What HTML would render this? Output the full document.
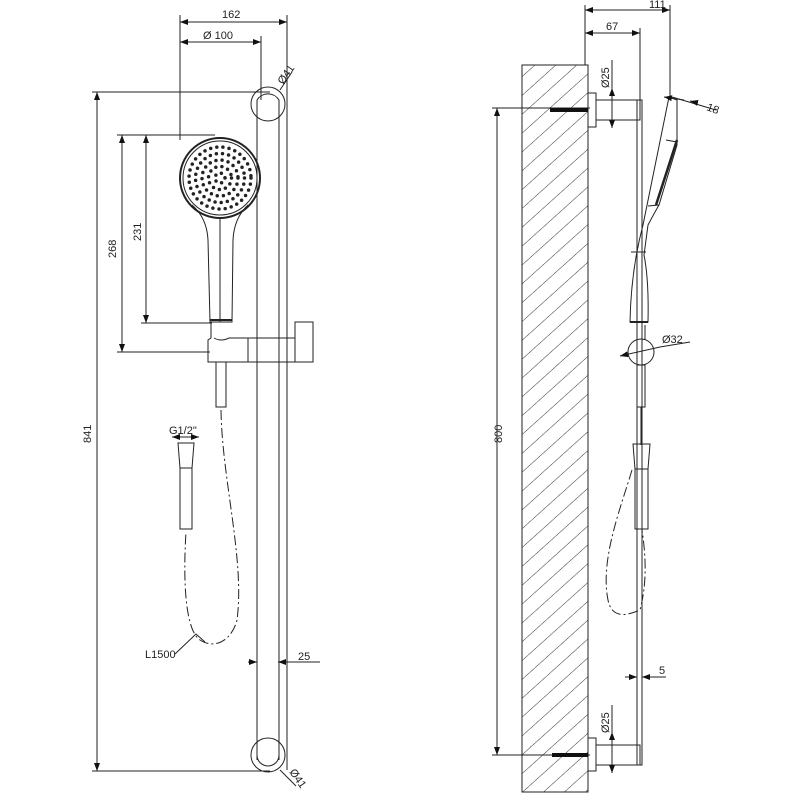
<!DOCTYPE html>
<html><head><meta charset="utf-8"><style>
html,body{margin:0;padding:0;background:#fff}
svg{display:block}
text{font-family:"Liberation Sans",sans-serif;font-size:11px;fill:#222}
</style></head><body>
<svg width="800" height="800" viewBox="0 0 800 800" xmlns="http://www.w3.org/2000/svg">
<defs>
<pattern id="h" patternUnits="userSpaceOnUse" width="14" height="20" patternTransform="rotate(48)">
<line x1="0" y1="0" x2="0" y2="20" stroke="#333" stroke-width="1"/>
</pattern>
<marker id="a" markerWidth="8" markerHeight="6" refX="8" refY="3" orient="auto-start-reverse"><path d="M0,0 L8,3 L0,6z" fill="#111"/></marker>
</defs>
<g stroke="#222" stroke-width="1" fill="none">
<line x1="180" y1="15" x2="180" y2="140"/>
<line x1="287" y1="15" x2="287" y2="770"/>
<line x1="180" y1="22" x2="287" y2="22" marker-start="url(#a)" marker-end="url(#a)"/>
<line x1="261" y1="36" x2="261" y2="100"/>
<line x1="180" y1="42" x2="261" y2="42" marker-start="url(#a)" marker-end="url(#a)"/>
<line x1="92" y1="92" x2="270" y2="92"/>
<line x1="92" y1="771" x2="270" y2="771"/>
<line x1="97" y1="92" x2="97" y2="771" marker-start="url(#a)" marker-end="url(#a)"/>
<line x1="117" y1="135" x2="215" y2="135"/>
<line x1="117" y1="352" x2="210" y2="352"/>
<line x1="122" y1="135" x2="122" y2="352" marker-start="url(#a)" marker-end="url(#a)"/>
<line x1="141" y1="323" x2="212" y2="323"/>
<line x1="146" y1="135" x2="146" y2="323" marker-start="url(#a)" marker-end="url(#a)"/>
<line x1="280" y1="90" x2="292" y2="72"/>
<line x1="280" y1="770" x2="296" y2="786"/>
<line x1="248" y1="662" x2="257" y2="662" marker-end="url(#a)"/>
<line x1="320" y1="662" x2="278" y2="662" marker-end="url(#a)"/>
<line x1="257" y1="640" x2="257" y2="662"/>
<path d="M257 100 A13 13 0 0 1 279 100 L279 760"/>
<path d="M257 760 L257 100"/>
<circle cx="268" cy="104" r="17"/>
<circle cx="268" cy="755" r="17"/>
<path d="M257 755 A11 11 0 0 0 279 755"/>
<circle cx="220" cy="178" r="40" stroke-width="2"/>
<circle cx="220" cy="178" r="37"/>
<path d="M192 205 Q207 218 208 240 L210 322 L232 322 L233 240 Q234 218 248 205"/>
<line x1="220" y1="218" x2="220" y2="322"/>
<line x1="210" y1="320" x2="232" y2="320" stroke-width="2"/>
<path d="M211 322 L211 338 L208 340 L208 362 L248 362 L248 338 L229 338 Q221 342 214 338"/>
<rect x="248" y="338" width="47" height="24"/>
<rect x="295" y="322" width="18" height="40"/>
<rect x="216" y="362" width="10" height="45"/>
<line x1="172" y1="437" x2="199" y2="437" marker-start="url(#a)" marker-end="url(#a)"/>
<path d="M178 443 L194 443 L192 468 L180 468Z"/>
<rect x="180" y="468" width="12" height="61"/>
<path d="M221 410 C222 480 245 560 237 620 C232 640 215 650 200 640 C185 630 183 580 186 532" stroke-dasharray="10 3 2 3"/>
<path d="M175 654 L196 634 L205 642"/>
<rect x="522" y="65" width="66" height="727" fill="url(#h)"/>
<line x1="522" y1="65" x2="522" y2="792"/>
<line x1="588" y1="65" x2="588" y2="792"/>
<line x1="585" y1="5" x2="585" y2="65"/>
<line x1="670" y1="5" x2="670" y2="100"/>
<line x1="640" y1="28" x2="640" y2="100"/>
<line x1="585" y1="10" x2="670" y2="10" marker-start="url(#a)" marker-end="url(#a)"/>
<line x1="585" y1="33" x2="640" y2="33" marker-start="url(#a)" marker-end="url(#a)"/>
<line x1="492" y1="108" x2="590" y2="108"/>
<line x1="492" y1="755" x2="590" y2="755"/>
<line x1="497" y1="108" x2="497" y2="755" marker-start="url(#a)" marker-end="url(#a)"/>
<rect x="588" y="93" width="8" height="34"/>
<rect x="596" y="100" width="44" height="20"/>
<rect x="588" y="738" width="8" height="33"/>
<rect x="596" y="745" width="44" height="20"/>
<line x1="612" y1="88" x2="612" y2="128" marker-start="url(#a)" marker-end="url(#a)"/>
<line x1="612" y1="732" x2="612" y2="773" marker-start="url(#a)" marker-end="url(#a)"/>
<line x1="612" y1="60" x2="612" y2="90"/>
<line x1="612" y1="705" x2="612" y2="735"/>
<line x1="550" y1="110" x2="588" y2="110" stroke-width="4" stroke="#111"/>
<line x1="552" y1="755" x2="588" y2="755" stroke-width="4" stroke="#111"/>
<rect x="637" y="100" width="5" height="665"/>
<path d="M669 97 L643 225 Q631 270 630 322 L648 322 Q649 280 644 255 L648 225 Q656 210 659 205 L677 145 L677 100 Z"/>
<line x1="677" y1="140" x2="656" y2="205" stroke-width="2.5"/>
<path d="M666 140 L677 142 M648 206 L659 205"/>
<line x1="631" y1="252" x2="646" y2="252"/>
<line x1="630" y1="322" x2="648" y2="322" stroke-width="2"/>
<line x1="672" y1="97" x2="716" y2="110"/>
<line x1="664" y1="97" x2="684" y2="100" marker-start="url(#a)"/>
<line x1="698" y1="103" x2="690" y2="101" marker-end="url(#a)"/>
<line x1="637" y1="325" x2="637" y2="340"/>
<line x1="645" y1="325" x2="645" y2="340"/>
<circle cx="641" cy="352" r="13"/>
<line x1="620" y1="356" x2="660" y2="347" marker-start="url(#a)"/>
<line x1="660" y1="347" x2="690" y2="342"/>
<rect x="637" y="365" width="8" height="42"/>
<line x1="641" y1="407" x2="641" y2="445"/>
<path d="M633 444 L650 444 L648 469 L635 469Z"/>
<rect x="635" y="469" width="13" height="60"/>
<path d="M632 470 C620 510 600 560 608 600 C612 620 628 615 640 610 C648 580 645 550 642 530" stroke-dasharray="10 3 2 3"/>
<line x1="625" y1="677" x2="637" y2="677" marker-end="url(#a)"/>
<line x1="666" y1="677" x2="642" y2="677" marker-end="url(#a)"/>
</g>
<g fill="none" stroke="#222" stroke-width="3.5" stroke-linecap="round" stroke-dasharray="0 6.2">
<circle cx="220" cy="178" r="31"/>
<circle cx="220" cy="178" r="24.5"/>
<circle cx="220" cy="178" r="18"/>
<circle cx="220" cy="178" r="11.5"/>
<circle cx="220" cy="178" r="5"/>
</g>
<text x="222" y="18">162</text>
<text x="203" y="39">Ø 100</text>
<text transform="translate(91,443) rotate(-90)">841</text>
<text transform="translate(116,258) rotate(-90)">268</text>
<text transform="translate(141,241) rotate(-90)">231</text>
<text transform="translate(283,85) rotate(-55)">Ø41</text>
<text transform="translate(289,772) rotate(55)">Ø41</text>
<text x="298" y="660">25</text>
<text x="169" y="434">G1/2"</text>
<text x="145" y="658">L1500</text>
<text x="649" y="8">111</text>
<text x="606" y="30">67</text>
<text transform="translate(502,443) rotate(-90)">800</text>
<text transform="translate(609,88) rotate(-90)">Ø25</text>
<text transform="translate(609,733) rotate(-90)">Ø25</text>
<text transform="translate(706,110) rotate(20)">18</text>
<text x="662" y="343">Ø32</text>
<text x="659" y="674">5</text>
</svg>
</body></html>
